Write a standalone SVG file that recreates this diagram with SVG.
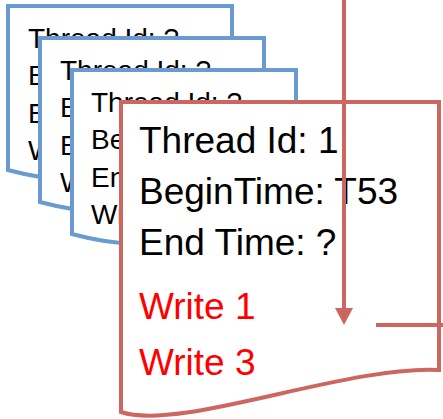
<svg xmlns="http://www.w3.org/2000/svg" width="443" height="419" viewBox="0 0 443 419">
  <style>
    .blue { fill: #ffffff; stroke: #6A9BD0; stroke-width: 4; stroke-linejoin: miter; }
    .red { fill: #ffffff; stroke: #CD6660; stroke-width: 4; stroke-linejoin: miter; }
    .conn { fill: none; stroke: #CD6660; stroke-width: 4; }
    .t-small { font-family: "Liberation Sans", Arial, sans-serif; font-size: 28px; fill: #000000; }
    .t-big { font-family: "Liberation Sans", Arial, sans-serif; font-size: 37px; fill: #000000; }
    .t-red { font-family: "Liberation Sans", Arial, sans-serif; font-size: 37px; fill: #FF0000; }
  </style>

  <g id="doc1">
    <path class="blue" d="M8,6 H232 V146.8 C120,146.8 120,200.4 8,170 Z"/>
    <text class="t-small" x="28" y="47.5">Thread Id: ?</text>
    <text class="t-small" x="28" y="85">B</text>
    <text class="t-small" x="28" y="122.5">E</text>
    <text class="t-small" x="28" y="160">W</text>
  </g>

  <g id="doc2">
    <path class="blue" d="M40,38 H264 V178.8 C152,178.8 152,232.4 40,202 Z"/>
    <text class="t-small" x="60" y="79.5">Thread Id: ?</text>
    <text class="t-small" x="60" y="117">B</text>
    <text class="t-small" x="60" y="154.5">E</text>
    <text class="t-small" x="60" y="192">W</text>
  </g>

  <g id="doc3">
    <path class="blue" d="M72,70 H296 V210.8 C184,210.8 184,264.4 72,234 Z"/>
    <text class="t-small" x="91" y="111.5">Thread Id: ?</text>
    <text class="t-small" x="91" y="149">Be</text>
    <text class="t-small" x="91" y="186.5">En</text>
    <text class="t-small" x="91" y="224">Wr</text>
  </g>

  <g id="doc-main">
    <path class="red" d="M121,102 H439 V370 C345,365 180,432 121,412 Z"/>
    <text class="t-big" x="139" y="153">Thread Id: 1</text>
    <text class="t-big" x="139" y="204">BeginTime: T53</text>
    <text class="t-big" x="139" y="255">End Time: ?</text>
    <text class="t-red" x="139" y="319">Write 1</text>
    <text class="t-red" x="139" y="375">Write 3</text>
  </g>

  <g id="connectors">
    <line class="conn" x1="344" y1="0" x2="344" y2="309"/>
    <path d="M335,308 L353,308 L344,325 Z" fill="#CD6660"/>
    <line class="conn" x1="376" y1="325" x2="443" y2="325"/>
  </g>
</svg>
